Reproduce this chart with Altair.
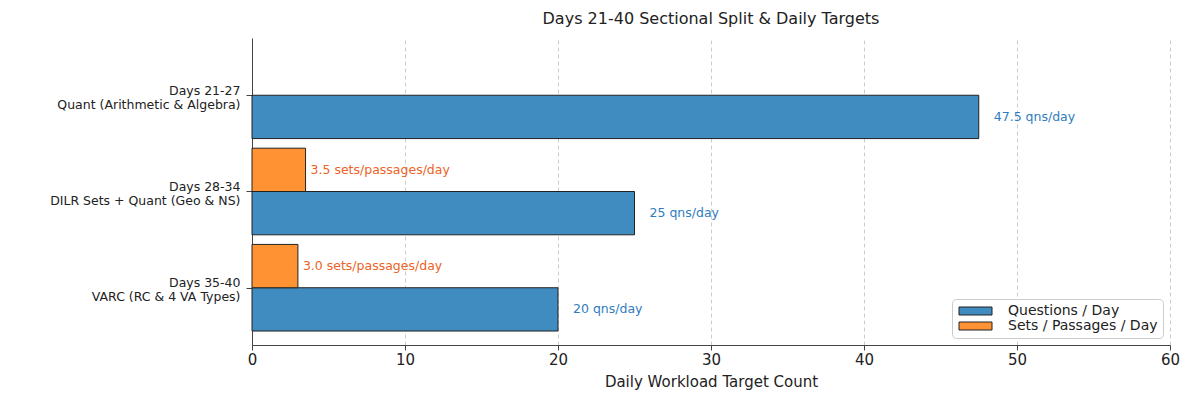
import altair as alt
import pandas as pd

phases = ["Days 21-27", "Days 28-34", "Days 35-40"]
sections = ["Quant (Arithmetic & Algebra)", "DILR Sets + Quant (Geo & NS)", "VARC (RC & 4 VA Types)"]
questions_per_day = [47.5, 25, 20]
sets_per_day = [None, 3.5, 3.0]
series_names = ["Questions / Day", "Sets / Passages / Day"]
bar_colors = ["#408bbf", "#ff9232"]
text_colors = ["#2f7cbf", "#ec6326"]
x_ticks = [0, 10, 20, 30, 40, 50, 60]

FONT = "DejaVu Sans"

rows = []
for i in range(len(phases)):
    q = questions_per_day[i]
    rows.append({"idx": i, "series": series_names[0], "value": q, "side": 1,
                 "label": f"{q:g} qns/day"})
    s = sets_per_day[i]
    if s is not None:
        rows.append({"idx": i, "series": series_names[1], "value": s, "side": -1,
                     "label": f"{s:.1f} sets/passages/day"})
df = pd.DataFrame(rows)

BAR_H = 0.45
label_expr = " : ".join(
    [f"datum.value == {i} ? ['{phases[i]}', '{sections[i]}']" for i in range(len(phases))]
) + " : ''"

y_scale = alt.Scale(domain=[-0.595, 2.595], reverse=True, nice=False, zero=False)
x_scale = alt.Scale(domain=[0, 60], nice=False)

base = alt.Chart(df).transform_calculate(
    y1="datum.idx",
    y2=f"datum.idx + datum.side * {BAR_H}",
    ymid=f"datum.idx + datum.side * {BAR_H / 2}",
)

bars = base.mark_bar(stroke="#222222", strokeWidth=1, cornerRadius=0).encode(
    x=alt.X("value:Q", scale=x_scale,
            axis=alt.Axis(values=x_ticks, title="Daily Workload Target Count",
                          grid=True, gridDash=[4, 3], gridColor="#cccccc",
                          domainColor="#444444", tickColor="#444444", tickSize=5,
                          labelFontSize=15, labelColor="#222222", labelPadding=2,
                          labelFlush=False,
                          titleFontSize=15, titleFontWeight="normal", titleColor="#222222",
                          titlePadding=7)),
    x2=alt.datum(0),
    y=alt.Y("y1:Q", scale=y_scale,
            axis=alt.Axis(values=[0, 1, 2], labelExpr=label_expr, title=None, grid=False,
                          domainColor="#444444", tickColor="#444444", tickSize=6,
                          labelFontSize=12.5, labelColor="#222222", labelPadding=6,
                          labelLimit=0, labelOffset=-5,
                          labelAlign="right", labelBaseline="middle", labelLineHeight=14)),
    y2="y2:Q",
    color=alt.Color("series:N", scale=alt.Scale(domain=series_names, range=bar_colors),
                    legend=alt.Legend(title=None, orient="bottom-right", offset=7,
                                      symbolType="M-1,-0.8H5.6V0.8H-1Z", symbolSize=100,
                                      symbolStrokeColor="#222222", symbolStrokeWidth=1,
                                      symbolOpacity=1,
                                      labelFontSize=14, labelColor="#222222",
                                      labelOffset=37, rowPadding=1,
                                      strokeColor="#cccccc", fillColor="white",
                                      cornerRadius=4, padding=5)),
)

q_texts = base.transform_filter(f"datum.series == '{series_names[0]}'").mark_text(
    align="left", baseline="middle", dx=15, fontSize=12.5, font=FONT, color=text_colors[0]
).encode(
    x=alt.X("value:Q", scale=x_scale),
    y=alt.Y("ymid:Q", scale=y_scale),
    text="label:N",
)

s_texts = base.transform_filter(f"datum.series == '{series_names[1]}'").mark_text(
    align="left", baseline="middle", dx=5, fontSize=12.5, font=FONT, color=text_colors[1]
).encode(
    x=alt.X("value:Q", scale=x_scale),
    y=alt.Y("ymid:Q", scale=y_scale),
    text="label:N",
)

chart = alt.layer(bars, q_texts, s_texts).properties(
    width=918, height=307,
    title=alt.Title("Days 21-40 Sectional Split & Daily Targets", fontSize=16,
                    fontWeight="normal", color="#222222", font=FONT, offset=11),
    autosize=alt.AutoSizeParams(type="none"),
    padding={"left": 244, "top": 30, "right": 22, "bottom": 47},
).configure(font=FONT).configure_view(stroke=None).configure_axis(
    labelFont=FONT, titleFont=FONT
).configure_legend(labelFont=FONT)

chart.save("out.html", embed_options={"renderer": "svg", "actions": False})
